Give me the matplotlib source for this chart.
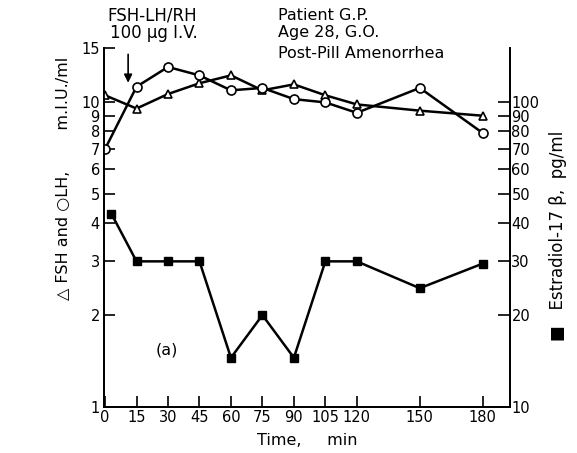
import matplotlib
matplotlib.use('Agg')
import matplotlib.pyplot as plt
from matplotlib.ticker import NullLocator

# Data
time = [0, 15, 30, 45, 60, 75, 90, 105, 120, 150, 180]
fsh = [10.5, 9.5, 10.6, 11.5, 12.2, 10.9, 11.4, 10.5, 9.8, 9.35, 9.0]
lh = [7.0, 11.2, 13.0, 12.2, 10.9, 11.1, 10.2, 9.95, 9.2, 11.1, 7.9]
e2_time = [3, 15, 30, 45, 60, 75, 90, 105, 120, 150, 180]
estradiol = [43, 30, 30, 30, 14.5, 20, 14.5, 30, 30, 24.5, 29.5]

left_ticks = [1, 2, 3, 4, 5, 6, 7, 8, 9, 10, 15]
right_ticks = [10, 20, 30, 40, 50, 60, 70, 80, 90, 100]

plt.rcParams['font.family'] = 'DejaVu Sans'
W, H = 577, 453
fig = plt.figure(figsize=(W / 100, H / 100), dpi=100)
ax = fig.add_axes([104 / W, 1 - 407 / H, (510 - 104) / W, (407 - 48) / H])
ax2 = ax.twinx()

# FSH and LH
ax.plot(time, fsh, color='k', lw=1.8, marker='^', ms=5.5, mfc='white', mec='k', mew=1.2, zorder=3)
ax.plot(time, lh, color='k', lw=1.8, marker='o', ms=6.5, mfc='white', mec='k', mew=1.2, zorder=4)
# Estradiol
ax2.plot(e2_time, estradiol, color='k', lw=1.8, marker='s', ms=6, mfc='k', mec='k')

ax.set_yscale('log')
ax.set_ylim(1, 15)
ax.set_xlim(-0.5, 193)
ax2.set_yscale('log')
ax2.set_ylim(10, 150)

ax.set_xticks(time)
ax.set_xticklabels([str(t) for t in time], fontsize=10.5)
ax.set_yticks(left_ticks)
ax.set_yticklabels([str(t) for t in left_ticks], fontsize=10.5)
ax.yaxis.set_minor_locator(NullLocator())
ax2.set_yticks(right_ticks)
ax2.set_yticklabels([str(t) for t in right_ticks], fontsize=10.5)
ax2.yaxis.set_minor_locator(NullLocator())

ax.tick_params(axis='y', direction='in', length=8, width=1.2, pad=3)
ax.tick_params(axis='x', direction='in', length=8, width=1.2, pad=2)
ax2.tick_params(axis='y', direction='in', length=9, width=1.2, pad=1)

for a in (ax, ax2):
    a.spines['top'].set_visible(False)
    for s in ('left', 'right', 'bottom'):
        a.spines[s].set_linewidth(1.3)

ax.set_xlabel('Time,     min', fontsize=11.5, labelpad=6)
fig.text(63 / W, 1 - 178 / H, '\u25b3 FSH and \u25cbLH,        m.I.U./ml',
         rotation=90, ha='center', va='center', fontsize=11.5)
fig.text(558 / W, 1 - 236 / H, '\u25a0   Estradiol-17 \u03b2,  pg/ml',
         rotation=90, ha='center', va='center', fontsize=12)

ax.text(29.5, 1.54, '(a)', fontsize=11.5, ha='center', va='center')

# injection arrow
ax.annotate('', xy=(11, 11.3), xytext=(11, 14.6),
            arrowprops=dict(arrowstyle='-|>', color='k', lw=1.2, mutation_scale=12),
            annotation_clip=False)

fig.text(107 / W, 1 - 15 / H, 'FSH-LH/RH', fontsize=12, va='center')
fig.text(110 / W, 1 - 33 / H, '100 \u03bcg I.V.', fontsize=12, va='center')
fig.text(278 / W, 1 - 15 / H, 'Patient G.P.', fontsize=11.5, va='center')
fig.text(278 / W, 1 - 33 / H, 'Age 28, G.O.', fontsize=11.5, va='center')
fig.text(278 / W, 1 - 53 / H, 'Post-Pill Amenorrhea', fontsize=11.5, va='center')

fig.savefig('out.png', dpi=100)
